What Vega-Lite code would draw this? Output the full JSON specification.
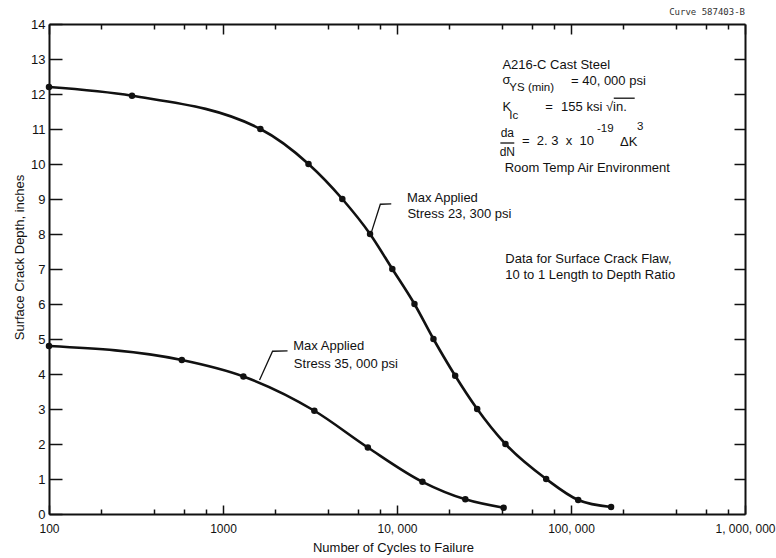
{
  "$schema": "https://vega.github.io/schema/vega-lite/v6.json",
  "width": 696,
  "height": 490,
  "autosize": {"type": "none"},
  "padding": {"left": 49, "top": 24, "right": 31, "bottom": 44},
  "background": "white",
  "config": {
    "view": {"stroke": null},
    "font": "Liberation Sans",
    "axis": {"grid": false, "domainColor": "#111", "domainWidth": 2, "tickColor": "#111", "tickWidth": 1.5, "labelColor": "#111", "titleColor": "#111", "labelFont": "Liberation Sans", "titleFont": "Liberation Sans", "titleFontWeight": "normal"}
  },
  "title": {"text": "Curve 587403-B", "anchor": "end", "frame": "group", "orient": "top", "fontSize": 9, "font": "DejaVu Sans Mono", "fontWeight": "normal", "color": "#333", "offset": 1, "dx": 0},
  "datasets": {
    "curves": [
      {"series": "23,300 psi", "cycles": 100, "depth": 12.2},
      {"series": "23,300 psi", "cycles": 300, "depth": 11.95},
      {"series": "23,300 psi", "cycles": 1640, "depth": 11.0},
      {"series": "23,300 psi", "cycles": 3100, "depth": 10.0},
      {"series": "23,300 psi", "cycles": 4850, "depth": 9.0},
      {"series": "23,300 psi", "cycles": 7000, "depth": 8.0},
      {"series": "23,300 psi", "cycles": 9400, "depth": 7.0},
      {"series": "23,300 psi", "cycles": 12600, "depth": 6.0},
      {"series": "23,300 psi", "cycles": 16200, "depth": 5.0},
      {"series": "23,300 psi", "cycles": 21600, "depth": 3.95},
      {"series": "23,300 psi", "cycles": 28900, "depth": 3.0},
      {"series": "23,300 psi", "cycles": 42000, "depth": 2.0},
      {"series": "23,300 psi", "cycles": 72000, "depth": 1.0},
      {"series": "23,300 psi", "cycles": 110000, "depth": 0.4},
      {"series": "23,300 psi", "cycles": 170000, "depth": 0.2},
      {"series": "35,000 psi", "cycles": 100, "depth": 4.8},
      {"series": "35,000 psi", "cycles": 580, "depth": 4.4},
      {"series": "35,000 psi", "cycles": 1310, "depth": 3.93},
      {"series": "35,000 psi", "cycles": 3350, "depth": 2.95},
      {"series": "35,000 psi", "cycles": 6800, "depth": 1.9},
      {"series": "35,000 psi", "cycles": 14000, "depth": 0.92},
      {"series": "35,000 psi", "cycles": 24700, "depth": 0.42},
      {"series": "35,000 psi", "cycles": 41000, "depth": 0.18}
    ],
    "strokes": [
      {"id": "leaderA", "k": 1, "cycles": 9270, "depth": 8.86},
      {"id": "leaderA", "k": 2, "cycles": 8020, "depth": 8.85},
      {"id": "leaderA", "k": 3, "cycles": 7115, "depth": 8.04},
      {"id": "leaderB", "k": 1, "cycles": 2349, "depth": 4.66},
      {"id": "leaderB", "k": 2, "cycles": 1927, "depth": 4.65},
      {"id": "leaderB", "k": 3, "cycles": 1622, "depth": 3.83},
      {"id": "fraction", "k": 1, "cycles": 39270, "depth": 10.6},
      {"id": "fraction", "k": 2, "cycles": 47210, "depth": 10.6},
      {"id": "radical", "k": 1, "cycles": 176100, "depth": 11.88},
      {"id": "radical", "k": 2, "cycles": 232300, "depth": 11.88}
    ],
    "notes": [
      {"text": "A216-C Cast Steel", "cycles": 40340, "depth": 12.82},
      {"text": "σ", "cycles": 40340, "depth": 12.39},
      {"text": "= 40, 000 psi", "cycles": 100000, "depth": 12.37},
      {"text": "K", "cycles": 40340, "depth": 11.62},
      {"text": "=", "cycles": 71040, "depth": 11.63},
      {"text": "155 ksi √in.", "cycles": 87700, "depth": 11.63},
      {"text": "= \u00a02. 3 \u00a0x \u00a010", "cycles": 52300, "depth": 10.66},
      {"text": "ΔK", "cycles": 191200, "depth": 10.63},
      {"text": "Room Temp Air Environment", "cycles": 41580, "depth": 9.89},
      {"text": "Max Applied", "cycles": 11420, "depth": 9.02},
      {"text": "Stress 23, 300 psi", "cycles": 11480, "depth": 8.56},
      {"text": "Data for Surface Crack Flaw,", "cycles": 41960, "depth": 7.3},
      {"text": "10 to 1 Length to Depth Ratio", "cycles": 41960, "depth": 6.84},
      {"text": "Max Applied", "cycles": 2535, "depth": 4.81},
      {"text": "Stress 35, 000 psi", "cycles": 2554, "depth": 4.3}
    ],
    "scripts": [
      {"text": "YS (min)", "cycles": 44230, "depth": 12.16},
      {"text": "Ic", "cycles": 44230, "depth": 11.36},
      {"text": "-19", "cycles": 141100, "depth": 11.0},
      {"text": "3", "cycles": 239500, "depth": 11.06}
    ],
    "fraction": [
      {"text": "da", "cycles": 43050, "depth": 10.88},
      {"text": "dN", "cycles": 43050, "depth": 10.34}
    ]
  },
  "layer": [
    {
      "data": {"name": "curves"},
      "mark": {"type": "line", "interpolate": "monotone", "color": "#111", "strokeWidth": 2.6},
      "encoding": {
        "x": {
          "field": "cycles", "type": "quantitative",
          "scale": {"type": "log", "domain": [100, 1000000], "nice": false},
          "axis": {
            "orient": "bottom",
            "values": [100, 200, 400, 600, 800, 1000, 2000, 4000, 6000, 8000, 10000, 20000, 40000, 60000, 80000, 100000, 200000, 400000, 600000, 800000, 1000000],
            "labelExpr": "datum.value == 100 ? '100' : datum.value == 1000 ? '1000' : datum.value == 10000 ? '10, 000' : datum.value == 100000 ? '100, 000' : datum.value == 1000000 ? '1, 000, 000' : ''",
            "tickSize": {"condition": {"test": "indexof([100,1000,10000,100000,1000000], datum.value) >= 0", "value": -9}, "value": -5},
            "labelPadding": 18,
            "labelFlush": false,
            "labelOverlap": false,
            "labelBound": false,
            "labelFontSize": 12,
            "title": "Number of Cycles to Failure",
            "titleFontSize": 13,
            "titleX": 344,
            "titleY": 33,
            "titleBaseline": "middle"
          }
        },
        "y": {
          "field": "depth", "type": "quantitative",
          "scale": {"domain": [0, 14], "nice": false},
          "axis": {
            "orient": "left",
            "values": [0, 1, 2, 3, 4, 5, 6, 7, 8, 9, 10, 11, 12, 13, 14],
            "tickSize": -13,
            "labelPadding": 17,
            "labelFontSize": 13,
            "title": "Surface Crack Depth, inches",
            "titleFontSize": 13,
            "titleX": -30,
            "titleY": 233,
            "titleAngle": -90,
            "titleAlign": "center",
            "titleBaseline": "middle"
          }
        },
        "detail": {"field": "series"}
      }
    },
    {
      "data": {"name": "curves"},
      "mark": {"type": "circle", "color": "#111", "opacity": 1, "size": 42},
      "encoding": {
        "x": {"field": "cycles", "type": "quantitative", "axis": null},
        "y": {"field": "depth", "type": "quantitative", "axis": null}
      }
    },
    {
      "data": {"name": "strokes"},
      "mark": {"type": "line", "color": "#111", "strokeWidth": 1.3},
      "encoding": {
        "x": {
          "field": "cycles", "type": "quantitative",
          "axis": {
            "orient": "top",
            "values": [100, 200, 400, 600, 800, 1000, 2000, 4000, 6000, 8000, 10000, 20000, 40000, 60000, 80000, 100000, 200000, 400000, 600000, 800000, 1000000],
            "labels": false,
            "tickSize": {"condition": {"test": "indexof([100,1000,10000,100000,1000000], datum.value) >= 0", "value": -10}, "value": -5},
            "title": null
          }
        },
        "y": {
          "field": "depth", "type": "quantitative",
          "axis": {
            "orient": "right",
            "values": [1, 2, 3, 4, 5, 6, 7, 8, 9, 10, 11, 12, 13],
            "labels": false,
            "tickSize": -11,
            "title": null
          }
        },
        "detail": {"field": "id"},
        "order": {"field": "k"}
      }
    },
    {
      "data": {"name": "notes"},
      "mark": {"type": "text", "align": "left", "baseline": "middle", "fontSize": 13, "color": "#111", "font": "Liberation Sans"},
      "encoding": {
        "x": {"field": "cycles", "type": "quantitative", "axis": null},
        "y": {"field": "depth", "type": "quantitative", "axis": null},
        "text": {"field": "text"}
      }
    },
    {
      "data": {"name": "scripts"},
      "mark": {"type": "text", "align": "left", "baseline": "middle", "fontSize": 11.5, "color": "#111", "font": "Liberation Sans"},
      "encoding": {
        "x": {"field": "cycles", "type": "quantitative", "axis": null},
        "y": {"field": "depth", "type": "quantitative", "axis": null},
        "text": {"field": "text"}
      }
    },
    {
      "data": {"name": "fraction"},
      "mark": {"type": "text", "align": "center", "baseline": "middle", "fontSize": 12, "color": "#111", "font": "Liberation Sans"},
      "encoding": {
        "x": {"field": "cycles", "type": "quantitative", "axis": null},
        "y": {"field": "depth", "type": "quantitative", "axis": null},
        "text": {"field": "text"}
      }
    }
  ],
  "resolve": {"axis": {"x": "independent", "y": "independent"}}
}
